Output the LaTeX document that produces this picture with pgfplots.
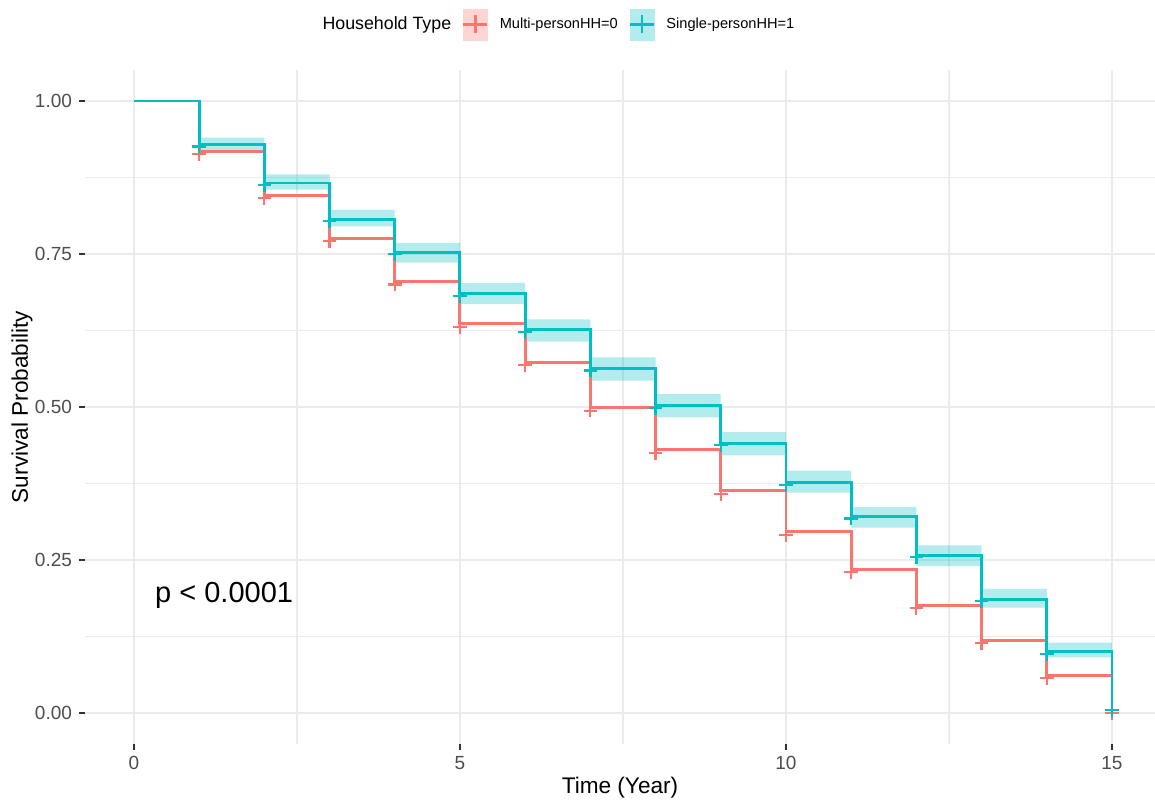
\documentclass[border=0pt]{standalone}
\usepackage{pgfplots}
\pgfplotsset{compat=1.18}
\usepackage{pgfplotstable}
\usepgfplotslibrary{fillbetween}
\usepackage{fontspec}
\setmainfont{Liberation Sans}
\definecolor{kmred}{HTML}{F8766D}
\definecolor{kmteal}{HTML}{00BFC4}
\definecolor{gridc}{HTML}{EBEBEB}
\definecolor{tickc}{HTML}{333333}
\definecolor{ticklab}{HTML}{4D4D4D}

\pgfplotstableread{
t red teal
0 1.000 1.000
1 0.918 0.929
2 0.846 0.866
3 0.776 0.807
4 0.705 0.753
5 0.636 0.685
6 0.573 0.626
7 0.499 0.563
8 0.430 0.502
9 0.363 0.441
10 0.296 0.376
11 0.235 0.321
12 0.176 0.258
13 0.119 0.186
14 0.062 0.100
15 0.005 0.008
}\km

\pgfplotstableread{
t lo hi
1 0.920 0.940
2 0.855 0.880
3 0.795 0.822
4 0.736 0.768
5 0.668 0.703
6 0.607 0.643
7 0.543 0.581
8 0.483 0.521
9 0.421 0.459
10 0.360 0.396
11 0.303 0.337
12 0.240 0.274
13 0.172 0.203
14 0.091 0.115
15 0.091 0.115
}\band

\begin{document}
\begin{tikzpicture}
\begin{axis}[
  scale only axis,
  width=535pt, height=336.6pt,
  xmin=-0.75, xmax=15.66,
  ymin=-0.05, ymax=1.05,
  axis line style={draw=none},
  tick align=outside,
  xtick pos=lower, ytick pos=left,
  major tick length=3pt,
  minor tick length=0pt,
  tick style={color=tickc, line width=0.6pt},
  xtick={0,5,10,15},
  xticklabels={0,5,10,15},
  minor xtick={2.5,7.5,12.5},
  ytick={0,0.25,0.5,0.75,1},
  yticklabels={0.00,0.25,0.50,0.75,1.00},
  minor ytick={0.125,0.375,0.625,0.875},
  grid=both,
  major grid style={color=gridc, line width=0.6pt},
  minor grid style={color=gridc, line width=0.6pt},
  /pgf/number format/assume math mode=true,
  ticklabel style={font=\fontsize{9.5}{11}\selectfont, text=ticklab},
  xlabel={Time (Year)},
  ylabel={Survival Probability},
  every axis x label/.style={at={(rel axis cs:0.5,0)}, yshift=-22pt, anchor=center, font=\fontsize{11.3}{13}\selectfont},
  every axis y label/.style={at={(rel axis cs:0,0.5)}, xshift=-31.5pt, rotate=90, anchor=center, font=\fontsize{11.3}{13}\selectfont},
  legend columns=-1,
  legend style={at={(0.4373,1.0683)}, anchor=center, draw=none, fill=none,
    column sep=5.5pt, nodes={inner sep=0pt},
    font=\fontsize{7.3}{9}\selectfont},
]
% confidence band (single-person)
\addplot[name path=hi, draw=none, const plot, forget plot] table[x=t,y=hi]{\band};
\addplot[name path=lo, draw=none, const plot, forget plot] table[x=t,y=lo]{\band};
\addplot[fill=kmteal, fill opacity=0.3, draw=none, forget plot] fill between[of=hi and lo];
% curves
\addplot[kmred, line width=1.45pt, const plot, forget plot] table[x=t,y=red]{\km};
\addplot[kmteal, line width=1.45pt, const plot, forget plot] table[x=t,y=teal]{\km};
% censor marks
\addplot[kmred, only marks, mark=+, mark size=3.4pt, mark options={line width=1.1pt, yshift=-1.5pt}, skip coords between index={0}{1}, forget plot] table[x=t,y=red]{\km};
\addplot[kmteal, only marks, mark=+, mark size=3.4pt, mark options={line width=1.2pt, yshift=-1pt}, skip coords between index={0}{1}, forget plot] table[x=t,y=teal]{\km};

\node[anchor=west, inner sep=0pt, font=\fontsize{14.5}{16}\selectfont] at (axis cs:0.32,0.192) {p < 0.0001};

% legend
\addlegendimage{empty legend}
\addlegendentry{\fontsize{8.9}{11}\selectfont Household Type}
\addlegendimage{legend image code/.code={
  \fill[kmred!30] (0pt,-7.75pt) rectangle (12pt,7.75pt);
  \draw[kmred, line width=1.3pt] (0pt,0pt) -- (12pt,0pt);
  \draw[kmred, line width=1.1pt] (6pt,-4.5pt) -- (6pt,4.5pt);
}}
\addlegendentry{Multi-personHH=0}
\addlegendimage{legend image code/.code={
  \fill[kmteal!30] (0pt,-7.75pt) rectangle (12pt,7.75pt);
  \draw[kmteal, line width=1.3pt] (0pt,0pt) -- (12pt,0pt);
  \draw[kmteal, line width=1.1pt] (6pt,-4.5pt) -- (6pt,4.5pt);
}}
\addlegendentry{Single-personHH=1}
\end{axis}
\pgfresetboundingbox
\path[use as bounding box] ([shift={(-42.5pt,-30.7pt)}]current axis.south west) rectangle ([shift={(0pt,35.2pt)}]current axis.north east);
\end{tikzpicture}
\end{document}
